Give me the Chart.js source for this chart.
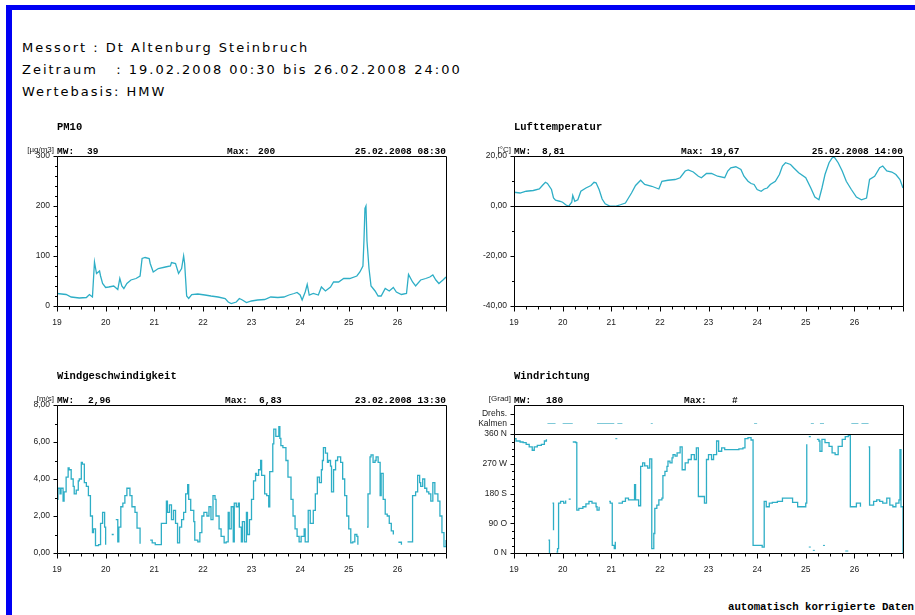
<!DOCTYPE html>
<html>
<head>
<meta charset="utf-8">
<script src="https://cdn.jsdelivr.net/npm/chart.js@4/dist/chart.umd.min.js"></script>
<style>
  html, body { margin: 0; padding: 0; background: #fff; }
  body { position: relative; width: 915px; height: 615px; overflow: hidden; }
  .frame-top { position: absolute; left: 6px; top: 5px; width: 909px; height: 5px; background: #0000f4; }
  .frame-left { position: absolute; left: 6px; top: 5px; width: 6px; height: 610px; background: #0000f4; }
  .head { position: absolute; left: 22px; height: 14px; line-height: 14px; font: 13px "DejaVu Sans", sans-serif;
          letter-spacing: 2px; white-space: pre; color: #000; }
  .foot { position: absolute; left: 728px; top: 601px; line-height: 14px; font: bold 10.7px "Liberation Mono", monospace;
          white-space: pre; color: #000; }
  canvas { position: absolute; }
</style>
</head>
<body>
<div class="frame-top"></div>
<div class="frame-left"></div>
<div class="head" style="top:40px">Messort : Dt Altenburg Steinbruch</div>
<div class="head" style="top:62px">Zeitraum   : 19.02.2008 00:30 bis 26.02.2008 24:00</div>
<div class="head" style="top:84px">Wertebasis: HMW</div>
<canvas id="pm10"></canvas>
<canvas id="temp"></canvas>
<canvas id="speed"></canvas>
<canvas id="dir"></canvas>
<div class="foot">automatisch korrigierte Daten</div>

<script>
// ---- time axis: hours since 19.02.2008 00:00 ----
const dayLabels = ['19', '20', '21', '22', '23', '24', '25', '26'];

// ---- PM10 [µg/m3] ----
const pm10Hours = [
  0, 4.5, 7, 11, 14.5, 16, 17.5, 18.5, 19.5, 21,
  21.5, 22.5, 24, 25.5, 28, 30, 31, 32, 33, 34.5,
  36.5, 39, 41, 42, 43.5, 45.5, 46, 47.5, 50, 53.5,
  56, 56.5, 58.5, 60, 61.5, 62.5, 63, 64, 65, 66.5,
  69.5, 73, 76, 79.5, 83, 84.5, 86, 88.5, 90, 91.5,
  93.5, 96, 99, 102.5, 105.5, 109, 112, 114.5, 117, 118.5,
  120, 121, 122.5, 123.5, 124.5, 126.5, 129, 130.5, 132.5, 135,
  136.5, 139, 141.5, 144.5, 148, 149.5, 151, 151.5, 152, 152.5,
  153, 154, 155, 157, 158.5, 160, 162, 164, 166, 167.5,
  170, 172.5, 173.5, 175.5, 177, 179.5, 182, 184, 185.5, 187,
  188.5, 190.5, 192
];
const pm10Values = [
  25, 23, 18, 16, 17, 23, 18, 88, 65, 70,
  60, 45, 37, 38, 40, 33, 55, 40, 35, 45,
  52, 55, 60, 95, 97, 95, 85, 68, 75, 78,
  80, 87, 85, 65, 75, 100, 85, 20, 15, 23,
  24, 22, 20, 18, 15, 8, 5, 8, 15, 12,
  7, 10, 12, 13, 18, 17, 18, 22, 25, 27,
  22, 12, 28, 43, 22, 25, 22, 38, 30, 38,
  48, 48, 55, 55, 60, 68, 80, 130, 195, 200,
  130, 75, 40, 30, 20, 20, 35, 30, 37, 28,
  23, 25, 63, 48, 40, 52, 55, 58, 62, 52,
  45, 52, 58
];

// ---- Lufttemperatur [°C] ----
const tempHours = [
  0, 3, 6, 9.5, 12.5, 14, 15.5, 16.5, 18.5, 19.5,
  20.5, 22.5, 24, 25.5, 27, 28.5, 29, 30, 31.5, 33,
  35.5, 38, 39.5, 40.5, 42, 43.5, 45, 47.5, 50, 52.5,
  55, 56.5, 58, 60, 62.5, 64.5, 68, 71.5, 73, 76,
  79.5, 82, 84.5, 86, 88.5, 91, 92.5, 95, 97.5, 100.5,
  104, 105.5, 107, 109.5, 112, 113.5, 115.5, 117, 118.5, 120,
  122, 123.5, 125, 126.5, 129, 131, 132.5, 134, 136.5, 138,
  140.5, 144, 146.5, 148.5, 150.5, 152, 153.5, 155.5, 157, 158,
  160, 162, 164, 166.5, 169, 171.5, 174, 175.5, 178, 180.5,
  182, 184, 186.5, 188.5, 190.5, 192
];
const tempValues = [
  5.5, 5.2, 5.9, 6.2, 6.8, 8.2, 9.5, 9, 6.6, 3.2,
  2.3, 1.9, 1.5, 0.5, -0.1, 1.5, 4.2, 1.9, 2.5, 5.9,
  7.2, 8.2, 9.5, 9.3, 6.6, 2.8, 0.9, -0.1, -0.1, 0.5,
  1.2, 3.2, 5.2, 8.2, 10.3, 8.6, 7.9, 6.8, 9.9, 10.3,
  10.6, 11.3, 14, 14.4, 13.6, 11.9, 11.3, 13, 13, 11.9,
  11.3, 14, 15.3, 15.7, 14.6, 11.9, 9.9, 9, 8.6, 6.6,
  5.9, 6.8, 7.2, 8.6, 9.9, 12.6, 16, 17.3, 16.6, 15.3,
  13.3, 11.3, 7.2, 3.6, 2.5, 7.2, 12.6, 17.3, 19.2, 19.67,
  17.3, 14, 9.9, 6.6, 3.6, 2.5, 3.2, 10.6, 11.9, 15.3,
  16, 14, 13.6, 12.6, 10.6, 7.2
];

// ---- Windgeschwindigkeit [m/s]; null = no value ----
const speedHours = [
  0, 0.5, 1.5, 2, 3, 3.5, 4.5, 5.5, 6, 7,
  8, 8.5, 9.5, 10.5, 11, 12, 12.5, 13.5, 14.5, 15.5,
  16.5, 17.5, 18, 19, 20.5, 21.5, 22.5, 23.5, 24, 24.5,
  27, 28, 28.5, 29, 30, 30.5, 31.5, 32.5, 33.5, 34.5,
  36, 37, 38.5, 39.5, 41, 41.5, 46, 47, 48.5, 50,
  51.5, 52.5, 54, 54.5, 55.5, 56.5, 57.5, 58.5, 59.5, 60.5,
  61.5, 62.5, 63.5, 64.5, 65, 66, 67.5, 68, 69.5, 70.5,
  71.5, 72.5, 74, 75, 76, 77, 78, 78.5, 80, 81,
  82.5, 83.5, 84.5, 85, 86, 87, 87.5, 88.5, 89.5, 90,
  91, 91.5, 92.5, 93.5, 94, 95, 96, 97, 98, 98.5,
  99.5, 100.5, 101, 102.5, 103.5, 104.5, 105, 106.5, 107, 108,
  109.5, 110, 110.5, 111.5, 113, 114, 115.5, 116.5, 117.5, 118.5,
  119.5, 120.5, 122, 122.5, 124, 125, 126.5, 127.5, 128.5, 129.5,
  130.5, 131, 131.5, 132.5, 133.5, 134, 135, 135.5, 136.5, 137.5,
  138.5, 140, 141, 142, 143, 144, 145, 146, 147, 148,
  148.5, 149, 153, 153.5, 154.5, 155, 156, 157, 157.5, 158.5,
  159.5, 160, 161, 162, 163, 164, 165, 166, 166.5, 168.5,
  170, 170.5, 173, 175, 175.5, 177, 178, 179, 179.5, 180.5,
  181.5, 182.5, 183.5, 184.5, 185.5, 186.5, 188, 189, 190, 191,
  192
];
const speedValues = [
  2.9, 3.5, 3.2, 3.5, 2.8, 3.3, 4.1, 4.6, 4.5, 4.0,
  3.6, 3.2, 3.4, 3.9, 4.0, 4.9, 4.8, 3.8, 3.6, 3.1,
  2.0, 1.1, 1.3, 0.4, 0.45, 1.6, 2.2, 1.4, 0.45, null,
  1.0, 1.0, null, 1.8, 0.6, 1.4, 2.5, 2.7, 3.1, 3.5,
  3.1, 2.5, 2.2, 1.35, 0.5, null, 0.7, 0.55, 0.45, 0.45,
  1.6, 1.6, 2.8, 2.2, 2.6, 1.8, 2.3, 1.6, 0.55, 1.4,
  1.8, 2.2, 3.2, 3.7, 2.9, 2.3, 1.7, 0.7, 0.6, 1.1,
  2.0, 2.2, 2.0, 2.5, 1.8, 3.1, 2.9, 2.0, 1.3, 0.9,
  0.55, 0.6, 2.2, 1.3, 2.5, 0.6, 2.7, 2.5, 2.7, 1.4,
  0.6, 1.7, 0.6, 2.2, 1.0, 1.8, 2.9, 3.9, 4.3, 4.2,
  4.5, 5.0, 4.2, 3.2, 3.1, 2.5, 4.4, 5.9, 6.7, 6.3,
  6.83, 6.2, 5.8, 5.7, 5.0, 4.1, 2.9, 2.0, 1.3, 0.9,
  0.6, 0.9, 1.3, 0.6, 2.3, 1.6, 2.3, 3.2, 4.1, 3.8,
  4.5, 5.0, 5.7, 5.4, 4.9, 5.0, 4.7, 3.3, 4.5, 5.0,
  5.2, 4.9, 4.0, 3.1, 2.0, 1.3, 0.55, 0.6, 1.0, 0.9,
  0.45, null, 1.4, 3.2, 5.2, 5.3, 4.9, 5.0, 5.2, 4.9,
  3.1, 4.3, 2.9, 2.1, 2.0, 1.6, 1.2, 1.0, null, 0.58,
  0.45, null, 0.6, 0.6, 3.1, 3.3, 4.2, 3.8, 3.6, 4.0,
  3.5, 3.3, 3.2, 2.8, 3.8, 3.2, 2.8, 2.0, 1.1, 0.35,
  0.7
];

// ---- Windrichtung [Grad]; null = no value ----
const dirHours = [
  0, 1, 3, 4.5, 6, 7.5, 9, 10, 11.5, 13.5,
  15, 16, 16.5, 17, 17.5, 18, 19, 19.5, 20, 21,
  21.5, 22, 23, 24.5, 25.5, 26, 27, 28, 28.5, 29,
  30.5, 31, 32, 34, 35.5, 37, 38.5, 40.5, 41, 42,
  42.5, 47, 47.5, 48.5, 49.5, 50, 50.5, 51.5, 53.5, 55,
  56.5, 58, 59.5, 60, 61.5, 62.5, 63.5, 64.5, 66, 67,
  68, 69, 69.5, 70.5, 71.5, 73, 73.5, 74.5, 75.5, 76,
  77, 78, 78.5, 79.5, 80.5, 82, 83, 84.5, 86, 87.5,
  89, 90, 91, 92.5, 94, 95, 96, 97.5, 98.5, 100,
  101, 102.5, 104, 106.5, 109, 111, 113, 114, 115.5, 117,
  118, 120, 122.5, 123.5, 124.5, 126, 127.5, 130, 132.5, 135,
  137.5, 140, 142, 144, 144.5, 145, 145.5, 146.5, 147, 149.5,
  150.5, 151, 152, 153.5, 155.5, 157, 158.5, 160, 162, 163.5,
  165, 166, 167.5, 169, 171, 171.5, 175, 175.5, 177.5, 179,
  180.5, 182, 184, 185.5, 187, 188.5, 190, 190.5, 191, 192
];
const dirValues = [
  346, 339, 336, 334, 329, 321, 311, 321, 326, 329,
  339, 344, null, 39, 0, null, 151, 69, null, 3,
  13, 151, 156, 151, 159, null, 163, 163, null, 336,
  334, 130, 135, 140, 149, 156, 151, 140, 130, 140,
  null, 156, 151, 23, 13, 34, null, 151, 156, 166,
  161, 161, 207, 161, 143, 262, 273, 264, 257, 285,
  13, 59, 135, 145, 161, 166, 234, 247, 262, 278,
  273, 288, 298, 293, 303, 321, 252, 273, 283, 298,
  283, 318, 171, 171, 151, 283, 298, 283, 298, 339,
  308, 318, 313, 313, 313, 315, 318, 346, 349, 342,
  23, 23, 18, 156, 140, 151, 153, 156, 166, 166,
  153, 140, 140, 151, 329, null, 352, 352, null, 344,
  339, 308, 344, 334, 323, 303, 298, 323, 344, 352,
  356, 140, 140, 151, 140, null, 321, 145, 156, 161,
  156, 151, 166, 145, 140, 151, 161, 313, 140, 0
];
// short isolated readings
const dirDashHours = [50, 51, 51.5, 145.5, 146.5, 147, 147.5, 148.5, 149, 152.5, 153.5, 154, 163.5, 165];
const dirDashValues = [346, 346, null, 18, 18, null, 8, 8, null, 23, 23, null, 6, 6];
// calm periods (Kalmen)
const calmStart = [16.5, 24, 41, 51, 67.5, 118.5, 146.5, 151, 166.5, 171.5];
const calmEnd = [20.5, 29, 49.5, 53.5, 68.5, 120, 148, 153, 170, 175];

// ---- axis ticks ----
const dirTickLabels = { 0: '0 N', 90: '90 O', 180: '180 S', 270: '270 W', 360: '360 N', 392: 'Kalmen', 422: 'Drehs.' };
const CALM_LEVEL = 392;

const LINE_COLOR = '#2eaec6';
const TICK_FONT = { family: 'Liberation Sans', size: 8.5 };

function series(hours, values) {
  return hours.map((h, i) => ({ x: h, y: values[i] }));
}
function spans(starts, ends, level) {
  const out = [];
  starts.forEach((s, i) => { out.push({ x: s, y: level }, { x: ends[i], y: level }, { x: ends[i], y: null }); });
  return out;
}
function range(a, b, step) {
  const out = [];
  for (let v = a; v <= b + 1e-9; v += step) out.push(Math.round(v * 100) / 100);
  return out;
}

// per-panel headings and statistics line
const DECO = {
  pm10:  { title: 'PM10', unit: '[µg/m3]', stats: [['MW:', 0], ['39', 30], ['Max:', 170], ['200', 201]], date: '25.02.2008 08:30' },
  temp:  { title: 'Lufttemperatur', unit: '[°C]', stats: [['MW:', 0], ['8,81', 28], ['Max:', 167], ['19,67', 197]], date: '25.02.2008 14:00', ref: 0 },
  speed: { title: 'Windgeschwindigkeit', unit: '[m/s]', stats: [['MW:', 0], ['2,96', 31], ['Max:', 168], ['6,83', 202]], date: '23.02.2008 13:30' },
  dir:   { title: 'Windrichtung', unit: '[Grad]', stats: [['MW:', 0], ['180', 32], ['Max:', 170], ['#', 218]], date: '', ref: 360 }
};

const panelDecor = {
  id: 'panelDecor',
  afterDraw(chart) {
    const d = DECO[chart.canvas.id];
    const { ctx, chartArea: a, scales: { x, y } } = chart;
    const L = Math.round(a.left) + 0.5, R = Math.round(a.right) + 0.5;
    const T = Math.round(a.top) + 0.5, B = Math.round(a.bottom) + 0.5;
    ctx.save();
    ctx.strokeStyle = '#000';
    ctx.lineWidth = 1;
    ctx.beginPath();
    ctx.rect(L, T, R - L, B - T);
    if (d.ref !== undefined) {
      const py = Math.round(y.getPixelForValue(d.ref)) + 0.5;
      ctx.moveTo(L, py); ctx.lineTo(R, py);
    }
    x.ticks.forEach(t => {
      const px = Math.round(x.getPixelForValue(t.value)) + 0.5;
      const len = t.value % 24 === 0 ? 5 : 3;
      ctx.moveTo(px, B); ctx.lineTo(px, B + len);
    });
    y.ticks.forEach(t => {
      const py = Math.round(y.getPixelForValue(t.value)) + 0.5;
      const len = t.label ? 4 : 2.5;
      ctx.moveTo(L - len, py); ctx.lineTo(L, py);
    });
    ctx.stroke();

    ctx.fillStyle = '#000';
    ctx.textBaseline = 'middle';
    ctx.textAlign = 'left';
    ctx.font = 'bold 10.5px "Liberation Mono"';
    ctx.fillText(d.title, a.left, a.top - 29);
    ctx.font = 'bold 9.5px "Liberation Mono"';
    d.stats.forEach(([txt, dx]) => ctx.fillText(txt, a.left + dx, a.top - 4));
    ctx.textAlign = 'right';
    if (d.date) ctx.fillText(d.date, a.right, a.top - 4);
    ctx.fillStyle = '#222';
    ctx.font = '8px "Liberation Sans"';
    ctx.fillText(d.unit, a.left - 3, a.top - 6);
    ctx.restore();
  }
};

function fixedTicks(values) {
  return function (scale) { scale.ticks = values.map(v => ({ value: v })); };
}

function timeAxis() {
  return {
    type: 'linear', min: 0, max: 192,
    afterBuildTicks: fixedTicks(range(0, 192, 6)),
    afterFit(s) { s.height = 24; },
    grid: { display: false, drawTicks: false },
    border: { display: false },
    ticks: {
      autoSkip: false, maxRotation: 0, padding: 12, color: '#222', font: TICK_FONT,
      callback: v => (v % 24 === 0 && v < 192) ? dayLabels[v / 24] : ''
    }
  };
}

function valueAxis(min, max, tickValues, label) {
  return {
    type: 'linear', min, max,
    afterBuildTicks: fixedTicks(tickValues),
    afterFit(s) { s.width = 45; },
    grid: { display: false, drawTicks: false },
    border: { display: false },
    ticks: { autoSkip: false, padding: 7, color: '#222', font: TICK_FONT, callback: label }
  };
}

function lineSet(data, extra) {
  return Object.assign({
    data, borderColor: LINE_COLOR, borderWidth: 1.3, pointRadius: 0, fill: false,
    tension: 0, spanGaps: false
  }, extra || {});
}

function panel(id, box, yAxis, datasets) {
  const cv = document.getElementById(id);
  const W = box.w + 45 + 8, H = box.h + 41 + 24;
  cv.width = W; cv.height = H;
  cv.style.width = W + 'px'; cv.style.height = H + 'px';
  cv.style.left = (box.x - 45) + 'px'; cv.style.top = (box.y - 41) + 'px';
  new Chart(cv, {
    type: 'line',
    data: { datasets },
    options: {
      responsive: false, animation: false, devicePixelRatio: 1, events: [],
      layout: { padding: { left: 0, top: 41, right: 8, bottom: 0 } },
      scales: { x: timeAxis(), y: yAxis },
      plugins: { legend: { display: false }, tooltip: { enabled: false } }
    },
    plugins: [panelDecor]
  });
}

const comma = v => v.toFixed(2).replace('.', ',');

panel('pm10', { x: 57, y: 156, w: 393, h: 150 },
  valueAxis(0, 300, range(0, 300, 20), v => v % 100 === 0 ? String(v) : ''),
  [lineSet(series(pm10Hours, pm10Values))]);

panel('temp', { x: 514, y: 156, w: 393, h: 150 },
  valueAxis(-40, 20, range(-40, 20, 10), v => v % 20 === 0 ? comma(v) : ''),
  [lineSet(series(tempHours, tempValues))]);

panel('speed', { x: 57, y: 405, w: 393, h: 148 },
  valueAxis(0, 8, range(0, 8, 1), v => v % 2 === 0 ? comma(v) : ''),
  [lineSet(series(speedHours, speedValues), { stepped: true })]);

panel('dir', { x: 514, y: 405, w: 393, h: 148 },
  valueAxis(0, 448, range(0, 360, 22.5).concat([392, 422]), v => dirTickLabels[v] || ''),
  [
    lineSet(series(dirHours, dirValues), { stepped: true }),
    lineSet(series(dirDashHours, dirDashValues), { borderWidth: 1 }),
    lineSet(spans(calmStart, calmEnd, CALM_LEVEL), { borderWidth: 1, borderColor: '#7fc9d8' })
  ]);
</script>
</body>
</html>
